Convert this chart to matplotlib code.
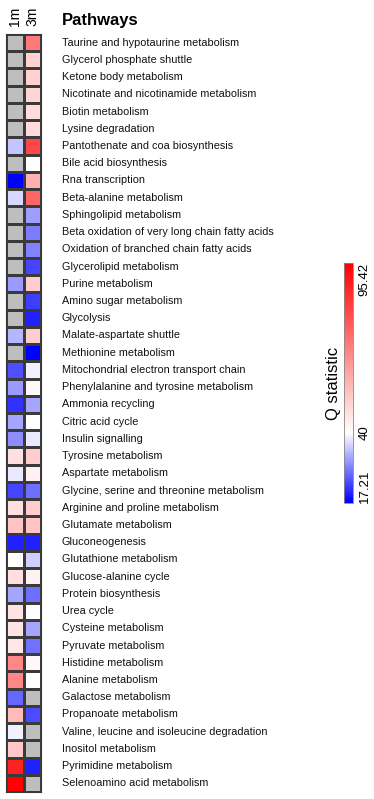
import numpy as np
import matplotlib.pyplot as plt
from matplotlib.colors import LinearSegmentedColormap, Normalize

plt.rcParams['font.family'] = ['Liberation Sans', 'DejaVu Sans']

pathways = [
    "Taurine and hypotaurine metabolism", "Glycerol phosphate shuttle",
    "Ketone body metabolism", "Nicotinate and nicotinamide metabolism",
    "Biotin metabolism", "Lysine degradation", "Pantothenate and coa biosynthesis",
    "Bile acid biosynthesis", "Rna transcription", "Beta-alanine metabolism",
    "Sphingolipid metabolism", "Beta oxidation of very long chain fatty acids",
    "Oxidation of branched chain fatty acids", "Glycerolipid metabolism",
    "Purine metabolism", "Amino sugar metabolism", "Glycolysis",
    "Malate-aspartate shuttle", "Methionine metabolism",
    "Mitochondrial electron transport chain", "Phenylalanine and tyrosine metabolism",
    "Ammonia recycling", "Citric acid cycle", "Insulin signalling",
    "Tyrosine metabolism", "Aspartate metabolism",
    "Glycine, serine and threonine metabolism", "Arginine and proline metabolism",
    "Glutamate metabolism", "Gluconeogenesis", "Glutathione metabolism",
    "Glucose-alanine cycle", "Protein biosynthesis", "Urea cycle",
    "Cysteine metabolism", "Pyruvate metabolism", "Histidine metabolism",
    "Alanine metabolism", "Galactose metabolism", "Propanoate metabolism",
    "Valine, leucine and isoleucine degradation", "Inositol metabolism",
    "Pyrimidine metabolism", "Selenoamino acid metabolism",
]
columns = ["1m", "3m"]

# Q statistic per pathway (nan = not tested, drawn grey)
nan = np.nan
q_1m = [nan, nan, nan, nan, nan, nan, 34.8, nan, 17.5, 36.5,
        nan, nan, nan, nan, 31, nan, nan, 33.6, nan, 24.3,
        31, 21.5, 32, 30, 46.6, 38, 23.6, 46.6, 53, 20,
        40, 47, 32, 46, 46, 45.5, 66, 66, 26.5, 55,
        38.7, 52, 88, 95]
q_3m = [69, 50, 50, 49, 48, 48, 80, 40, 57, 73,
        31.5, 28.5, 29, 23.4, 51, 23, 20, 51, 17.5, 38.6,
        41.5, 32, 40, 38, 51, 43, 27, 51, 53, 20,
        35.8, 43, 27, 40, 32, 27.5, 41.5, 40, nan, 24,
        nan, nan, 20, nan]

vmin, vmid, vmax = 17.21, 40, 95.42
mid = (vmid - vmin) / (vmax - vmin)
cmap = LinearSegmentedColormap.from_list(
    "bwr_q", [(0, "#0000ff"), (mid, "#ffffff"), (1, "#ff0000")])
cmap.set_bad("#bebebe")
norm = Normalize(vmin, vmax)

data = np.ma.masked_invalid(np.array([q_1m, q_3m]).T)

fig = plt.figure(figsize=(3.74, 7.99), dpi=100)
W, H = 374, 799
ax = fig.add_axes([6 / W, 1 - 792 / H, 35 / W, 758 / H])
ax.pcolormesh(data, cmap=cmap, norm=norm, edgecolors="#3a3a3a", linewidth=0.8)
ax.set_xlim(0, 2)
ax.set_ylim(len(pathways), 0)
ax.set_xticks([0.5, 1.5])
ax.set_xticklabels(columns, rotation=90, fontsize=10)
ax.xaxis.tick_top()
ax.tick_params(length=0, pad=6)
ax.set_yticks([])
for s in ax.spines.values():
    s.set_color("#3a3a3a")
    s.set_linewidth(0.8)

for i, name in enumerate(pathways):
    ax.text(2 + 21 / 17.5, i + 0.5, name, va="center", ha="left", fontsize=7.8,
            color="#111111", clip_on=False)
ax.text(2 + 21 / 17.5, -0.8, "Pathways", va="center", ha="left", fontsize=12,
        fontweight="bold", clip_on=False)

cax = fig.add_axes([344 / W, 1 - 503 / H, 9 / W, 240 / H])
cb = fig.colorbar(plt.cm.ScalarMappable(norm=norm, cmap=cmap), cax=cax)
cb.set_ticks([vmin, vmid, vmax])
cb.set_ticklabels(["17.21", "40", "95.42"])
cb.ax.tick_params(labelsize=9.5, length=0, pad=4, labelrotation=90)
labs = cb.ax.get_yticklabels()
labs[0].set_va("bottom")
labs[1].set_va("center")
labs[2].set_va("top")
cb.outline.set_edgecolor("#888888")
cb.outline.set_linewidth(0.6)
cb.set_label("Q statistic", fontsize=12, labelpad=2)
cb.ax.yaxis.set_label_position("left")

fig.savefig("out.png", dpi=100)
